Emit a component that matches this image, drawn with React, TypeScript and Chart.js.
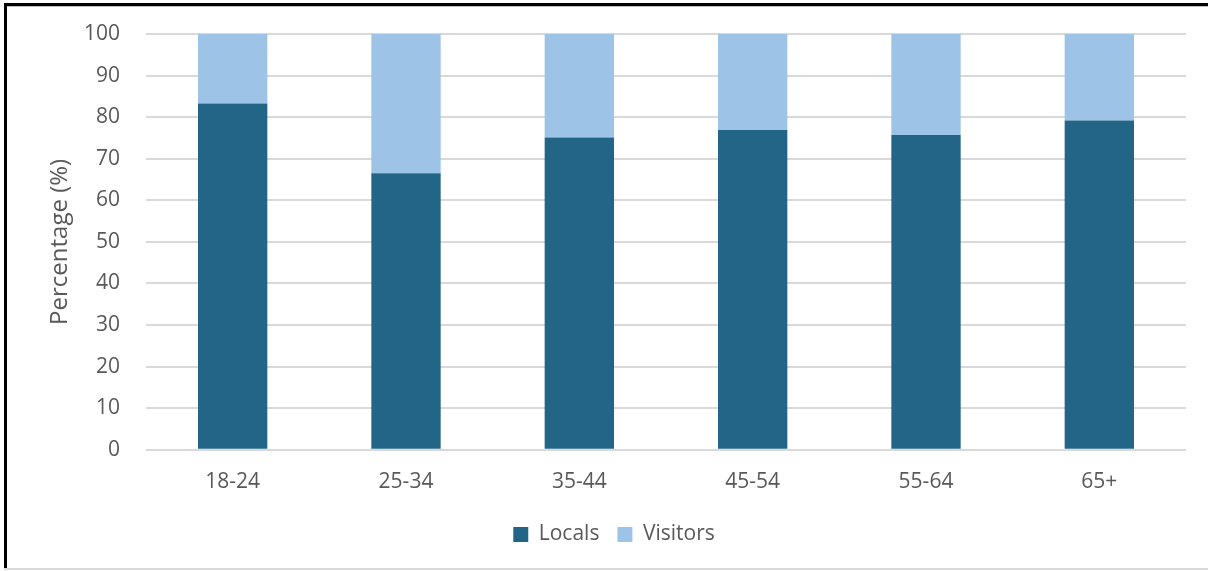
import React, { useEffect, useRef } from "react";
import { Chart, registerables } from "chart.js";

Chart.register(...registerables);

const categories = ["18-24", "25-34", "35-44", "45-54", "55-64", "65+"];
const locals = [83.3, 66.5, 75.1, 76.9, 75.7, 79.2];
const visitors = [16.7, 33.5, 24.9, 23.1, 24.3, 20.8];
const yTicks = [0, 10, 20, 30, 40, 50, 60, 70, 80, 90, 100];

const FONT = "'Open Sans', 'Noto Sans', sans-serif";
const TEXT = "#595959";

export default function App() {
  const ref = useRef<HTMLCanvasElement>(null);
  useEffect(() => {
    if (!ref.current) return;
    const chart = new Chart(ref.current, {
      type: "bar",
      data: {
        labels: categories,
        datasets: [
          { label: "Locals", data: locals, backgroundColor: "#236587", borderWidth: 0 },
          { label: "Visitors", data: visitors, backgroundColor: "#9DC3E6", borderWidth: 0 },
        ],
      },
      options: {
        animation: false,
        responsive: false,
        maintainAspectRatio: false,
        layout: { padding: { left: 42, right: 22, top: 34, bottom: 16 } },
        datasets: { bar: { categoryPercentage: 1, barPercentage: 0.4 } },
        plugins: {
          tooltip: { enabled: false },
          legend: {
            position: "bottom",
            labels: {
              color: TEXT,
              font: { family: FONT, size: 21 },
              boxWidth: 15,
              boxHeight: 15,
              padding: 18,
            },
          },
        },
        scales: {
          x: {
            stacked: true,
            afterFit: (s: any) => { s.height = s.height - 9; },
            grid: { display: false, drawTicks: false },
            border: { display: false },
            ticks: { color: TEXT, font: { family: FONT, size: 21 }, padding: 20 },
          },
          y: {
            stacked: true,
            min: 0,
            max: 100,
            afterFit: (s: any) => { s.width = 104; s.paddingTop = 10; s.paddingBottom = 10; },
            afterBuildTicks: (s: any) => { s.ticks = yTicks.map((v) => ({ value: v })); },
            grid: { color: "#d9d9d9", lineWidth: 2, drawTicks: false },
            border: { display: false },
            ticks: { color: TEXT, font: { family: FONT, size: 21 }, padding: 26 },
            title: {
              display: true,
              text: "Percentage (%)",
              color: TEXT,
              font: { family: FONT, size: 24 },
            },
          },
        },
      },
    });
    return () => chart.destroy();
  }, []);
  return (
    <div style={{ position: "fixed", left: 0, top: 0, width: 1208, height: 571, background: "#fff", overflow: "hidden" }}>
      <canvas ref={ref} width={1208} height={571} style={{ position: "absolute", left: 0, top: 0 }} />
      <div style={{ position: "absolute", left: 4, top: 3, width: 1204, height: 3, background: "#000" }} />
      <div style={{ position: "absolute", left: 4, top: 6, width: 1204, height: 1, background: "#bfbfbf" }} />
      <div style={{ position: "absolute", left: 4, top: 3, width: 3, height: 566, background: "#000" }} />
      <div style={{ position: "absolute", left: 4, top: 568, width: 1204, height: 2, background: "#d9d9d9" }} />
    </div>
  );
}
